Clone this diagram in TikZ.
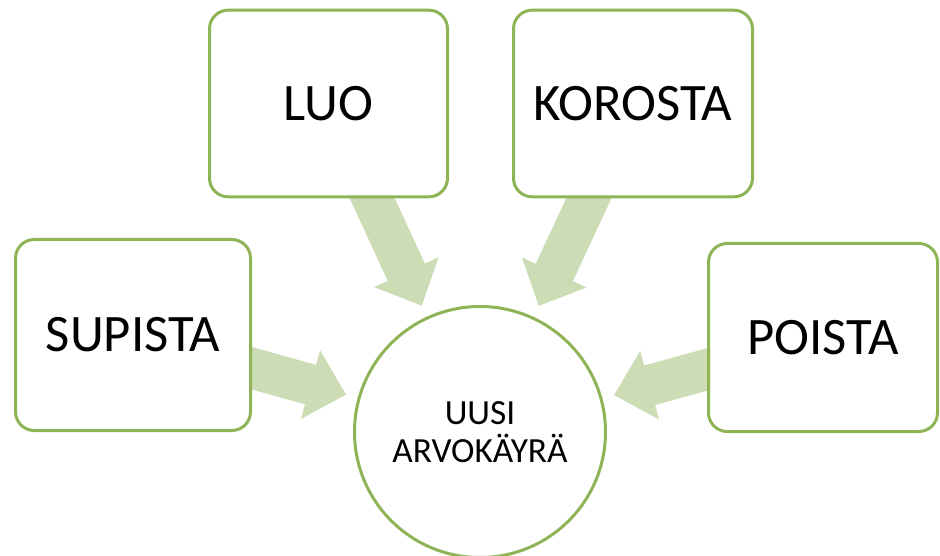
\documentclass[tikz,border=0pt]{standalone}
\usepackage{fontspec}
\setmainfont{Carlito}
\usetikzlibrary{arrows.meta,backgrounds}

\definecolor{boxline}{HTML}{8EB456}
\definecolor{arrowfill}{HTML}{CCDCB5}

\tikzset{
  actionbox/.style={draw=boxline, line width=2.25pt, fill=white,
    rounded corners=14pt, inner sep=0pt, font=\fontsize{39.5}{46}\selectfont},
  hubcircle/.style={draw=boxline, line width=2.25pt, fill=white, circle,
    minimum size=188.25pt, inner sep=0pt, align=center,
    font=\fontsize{26.5}{28}\selectfont},
  blockarrow/.style={draw=arrowfill, line width=30.75pt,
    -{Triangle[length=27.75pt,width=51.75pt]}, shorten >=9pt}
}

\begin{document}
\begin{tikzpicture}[x=0.75pt,y=-0.75pt]
  \useasboundingbox (0,0) rectangle (940,556);

  % four actions around the central result
  \node[actionbox, minimum width=178.5pt, minimum height=140pt] (luo) at (328.5,103.5) {LUO};
  \node[actionbox, minimum width=179.25pt, minimum height=140pt] (korosta) at (633,103.5) {KOROSTA};
  \node[actionbox, minimum width=176.25pt, minimum height=143.25pt] (supista) at (133,335) {SUPISTA};
  \node[actionbox, minimum width=171.75pt, minimum height=141pt] (poista) at (823,337.5) {POISTA};

  % central result
  \node[hubcircle] (hub) at (480,432) {UUSI\\ARVOKÄYRÄ};

  % wide arrows from every action toward the centre
  \begin{pgfonlayer}{background}
    \draw[blockarrow] (luo.center) -- (hub);
    \draw[blockarrow] (korosta.center) -- (hub);
    \draw[blockarrow] (supista.center) -- (hub);
    \draw[blockarrow] (poista.center) -- (hub);
  \end{pgfonlayer}
\end{tikzpicture}
\end{document}
